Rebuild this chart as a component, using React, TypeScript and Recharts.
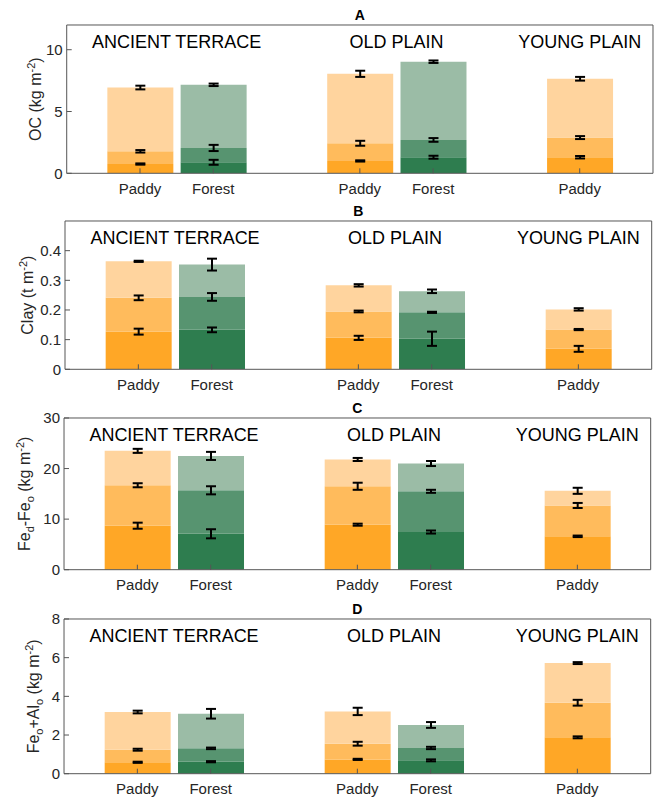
import React from "react";
import { BarChart, Bar, XAxis, YAxis, ErrorBar, Cell, ReferenceLine } from "recharts";

// x layout: 8 slots wide, bars in slots 1,2 | 4,5 | 7
const categories = ["Paddy", "Forest", "Paddy", "Forest", "Paddy"];
const landUse = ["paddy", "forest", "paddy", "forest", "paddy"];
const slots = [1, 2, 4, 5, 7];
const regions = ["ANCIENT TERRACE", "OLD PLAIN", "YOUNG PLAIN"];
const regionSlots = [1.5, 4.5, 7];

// cumulative stocks per layer (layer1 = bottom, layer3 = whole profile)
// A: OC (kg m-2)
const ocLayer1 = [0.75, 0.89, 1.0, 1.3, 1.3];
const ocLayer1Err = [0.05, 0.2, 0.05, 0.12, 0.1];
const ocLayer2 = [1.78, 2.05, 2.43, 2.7, 2.89];
const ocLayer2Err = [0.1, 0.25, 0.2, 0.15, 0.12];
const ocLayer3 = [6.94, 7.16, 8.05, 9.03, 7.65];
const ocLayer3Err = [0.15, 0.1, 0.25, 0.1, 0.15];

// B: Clay (t m-2)
const clayLayer1 = [0.127, 0.133, 0.106, 0.103, 0.069];
const clayLayer1Err = [0.01, 0.008, 0.007, 0.024, 0.01];
const clayLayer2 = [0.241, 0.244, 0.195, 0.192, 0.134];
const clayLayer2Err = [0.008, 0.013, 0.003, 0.002, 0.002];
const clayLayer3 = [0.364, 0.353, 0.283, 0.263, 0.202];
const clayLayer3Err = [0.002, 0.02, 0.004, 0.006, 0.004];

// C: Fed-Feo (kg m-2)
const fedLayer1 = [8.7, 7.1, 8.9, 7.45, 6.6];
const fedLayer1Err = [0.6, 0.9, 0.2, 0.3, 0.15];
const fedLayer2 = [16.7, 15.7, 16.5, 15.5, 12.7];
const fedLayer2Err = [0.4, 0.8, 0.7, 0.3, 0.5];
const fedLayer3 = [23.5, 22.5, 21.8, 21.0, 15.6];
const fedLayer3Err = [0.4, 0.8, 0.3, 0.5, 0.6];

// D: Feo+Alo (kg m-2)
const feoLayer1 = [0.59, 0.62, 0.74, 0.69, 1.88];
const feoLayer1Err = [0.03, 0.03, 0.03, 0.05, 0.05];
const feoLayer2 = [1.24, 1.31, 1.55, 1.33, 3.67];
const feoLayer2Err = [0.05, 0.04, 0.1, 0.06, 0.15];
const feoLayer3 = [3.19, 3.1, 3.22, 2.52, 5.72];
const feoLayer3Err = [0.07, 0.25, 0.19, 0.15, 0.05];

const shades: Record<string, string[]> = {
  paddy: ["#FFA726", "#FFBB5C", "#FFD49E"],
  forest: ["#2E7D4F", "#579470", "#9BBCA6"],
};

const buildRows = (
  l1: number[], e1: number[], l2: number[], e2: number[], l3: number[], e3: number[]
) =>
  slots.map((x, i) => ({
    x,
    use: landUse[i],
    s1: l1[i],
    s2: l2[i] - l1[i],
    s3: l3[i] - l2[i],
    e1: e1[i],
    e2: e2[i],
    e3: e3[i],
  }));

type Part = { t: string; sub?: boolean; sup?: boolean };

const AxisTitle = ({ viewBox, parts, dx }: any) => {
  const cx = dx;
  const cy = viewBox.y + viewBox.height / 2;
  let shift = 0;
  return (
    <text
      x={cx}
      y={cy}
      transform={`rotate(-90 ${cx} ${cy})`}
      textAnchor="middle"
      fontSize={16}
      fill="#262626"
    >
      {parts.map((p: Part, i: number) => {
        const target = p.sub ? 4 : p.sup ? -6 : 0;
        const dy = target - shift;
        shift = target;
        return (
          <tspan key={i} dy={dy} fontSize={p.sub || p.sup ? 11 : 16}>
            {p.t}
          </tspan>
        );
      })}
    </text>
  );
};

type PanelProps = {
  boxTop: number;
  boxH: number;
  boxLeft: number;
  boxRight: number;
  rows: any[];
  domain: number[];
  ticks: number[];
  title: string;
  parts: Part[];
  labelDx: number;
};

const Panel = ({ boxTop, boxH, boxLeft, boxRight, rows, domain, ticks, title, parts, labelDx }: PanelProps) => {
  const height = boxH + 55;
  const axisColor = "#555";
  const tickStyle = { fill: "#262626", fontSize: 15 };
  return (
    <div style={{ position: "absolute", left: 0, top: boxTop - 25, width: 660, height }}>
      <div
        style={{
          position: "absolute",
          left: boxLeft,
          width: boxRight - boxLeft,
          top: 7,
          textAlign: "center",
          fontWeight: "bold",
          fontSize: 14,
          lineHeight: "16px",
        }}
      >
        {title}
      </div>
      <BarChart
        width={660}
        height={height}
        data={rows}
        margin={{ top: 24, right: 660 - boxRight - 1, bottom: 0, left: 0 }}
      >
        <XAxis
          dataKey="x"
          type="number"
          domain={[0, 8]}
          ticks={slots}
          allowDataOverflow
          height={30}
          tickSize={-5}
          tickMargin={15}
          stroke={axisColor}
          tick={tickStyle}
          tickFormatter={(v: number) => categories[slots.indexOf(v)] ?? ""}
        />
        <XAxis
          xAxisId="top"
          orientation="top"
          type="number"
          domain={[0, 8]}
          ticks={slots}
          allowDataOverflow
          height={1}
          tick={false}
          tickSize={-5}
          stroke={axisColor}
        />
        <YAxis
          type="number"
          domain={domain}
          ticks={ticks}
          allowDataOverflow
          width={boxLeft}
          tickSize={-5}
          tickMargin={9}
          stroke={axisColor}
          tick={tickStyle}
          label={(props: any) => <AxisTitle {...props} parts={parts} dx={labelDx} />}
        />
        <YAxis
          yAxisId="right"
          orientation="right"
          type="number"
          domain={domain}
          ticks={ticks}
          allowDataOverflow
          width={1}
          tick={false}
          tickSize={-5}
          stroke={axisColor}
        />
        {regions.map((r, i) => (
          <ReferenceLine
            key={r}
            x={regionSlots[i]}
            stroke="none"
            label={{ value: r, position: "insideTop", offset: 10, fontSize: 18, fill: "#000" }}
          />
        ))}
        {["s1", "s2", "s3"].map((key, li) => (
          <Bar
            key={key}
            dataKey={key}
            stackId="a"
            barSize={66}
            isAnimationActive={false}
          >
            {rows.map((row, i) => (
              <Cell key={i} fill={shades[row.use][li]} />
            ))}
            <ErrorBar
              dataKey={`e${li + 1}`}
              direction="y"
              width={5}
              stroke="#000"
              strokeWidth={2}
            />
          </Bar>
        ))}
      </BarChart>
    </div>
  );
};

export default function App() {
  return (
    <div
      style={{
        position: "absolute",
        left: 0,
        top: 0,
        width: 660,
        height: 797,
        overflow: "hidden",
        background: "#fff",
        fontFamily: "'Liberation Sans', Arial, sans-serif",
      }}
    >
      <Panel
        boxTop={25}
        boxH={148.3}
        boxLeft={66.7}
        boxRight={653}
        rows={buildRows(ocLayer1, ocLayer1Err, ocLayer2, ocLayer2Err, ocLayer3, ocLayer3Err)}
        domain={[0, 12]}
        ticks={[0, 5, 10]}
        title="A"
        parts={[{ t: "OC (kg m" }, { t: "-2", sup: true }, { t: ")" }]}
        labelDx={41}
      />
      <Panel
        boxTop={221}
        boxH={148.3}
        boxLeft={65}
        boxRight={651.7}
        rows={buildRows(clayLayer1, clayLayer1Err, clayLayer2, clayLayer2Err, clayLayer3, clayLayer3Err)}
        domain={[0, 0.5]}
        ticks={[0, 0.1, 0.2, 0.3, 0.4]}
        title="B"
        parts={[{ t: "Clay (t m" }, { t: "-2", sup: true }, { t: ")" }]}
        labelDx={33}
      />
      <Panel
        boxTop={418.3}
        boxH={151.7}
        boxLeft={64}
        boxRight={650.7}
        rows={buildRows(fedLayer1, fedLayer1Err, fedLayer2, fedLayer2Err, fedLayer3, fedLayer3Err)}
        domain={[0, 30]}
        ticks={[0, 10, 20, 30]}
        title="C"
        parts={[
          { t: "Fe" },
          { t: "d", sub: true },
          { t: "-Fe" },
          { t: "o", sub: true },
          { t: " (kg m" },
          { t: "-2", sup: true },
          { t: ")" },
        ]}
        labelDx={30}
      />
      <Panel
        boxTop={619.3}
        boxH={154.7}
        boxLeft={64}
        boxRight={650.7}
        rows={buildRows(feoLayer1, feoLayer1Err, feoLayer2, feoLayer2Err, feoLayer3, feoLayer3Err)}
        domain={[0, 8]}
        ticks={[0, 2, 4, 6, 8]}
        title="D"
        parts={[
          { t: "Fe" },
          { t: "o", sub: true },
          { t: "+Al" },
          { t: "o", sub: true },
          { t: " (kg m" },
          { t: "-2", sup: true },
          { t: ")" },
        ]}
        labelDx={39}
      />
    </div>
  );
}
